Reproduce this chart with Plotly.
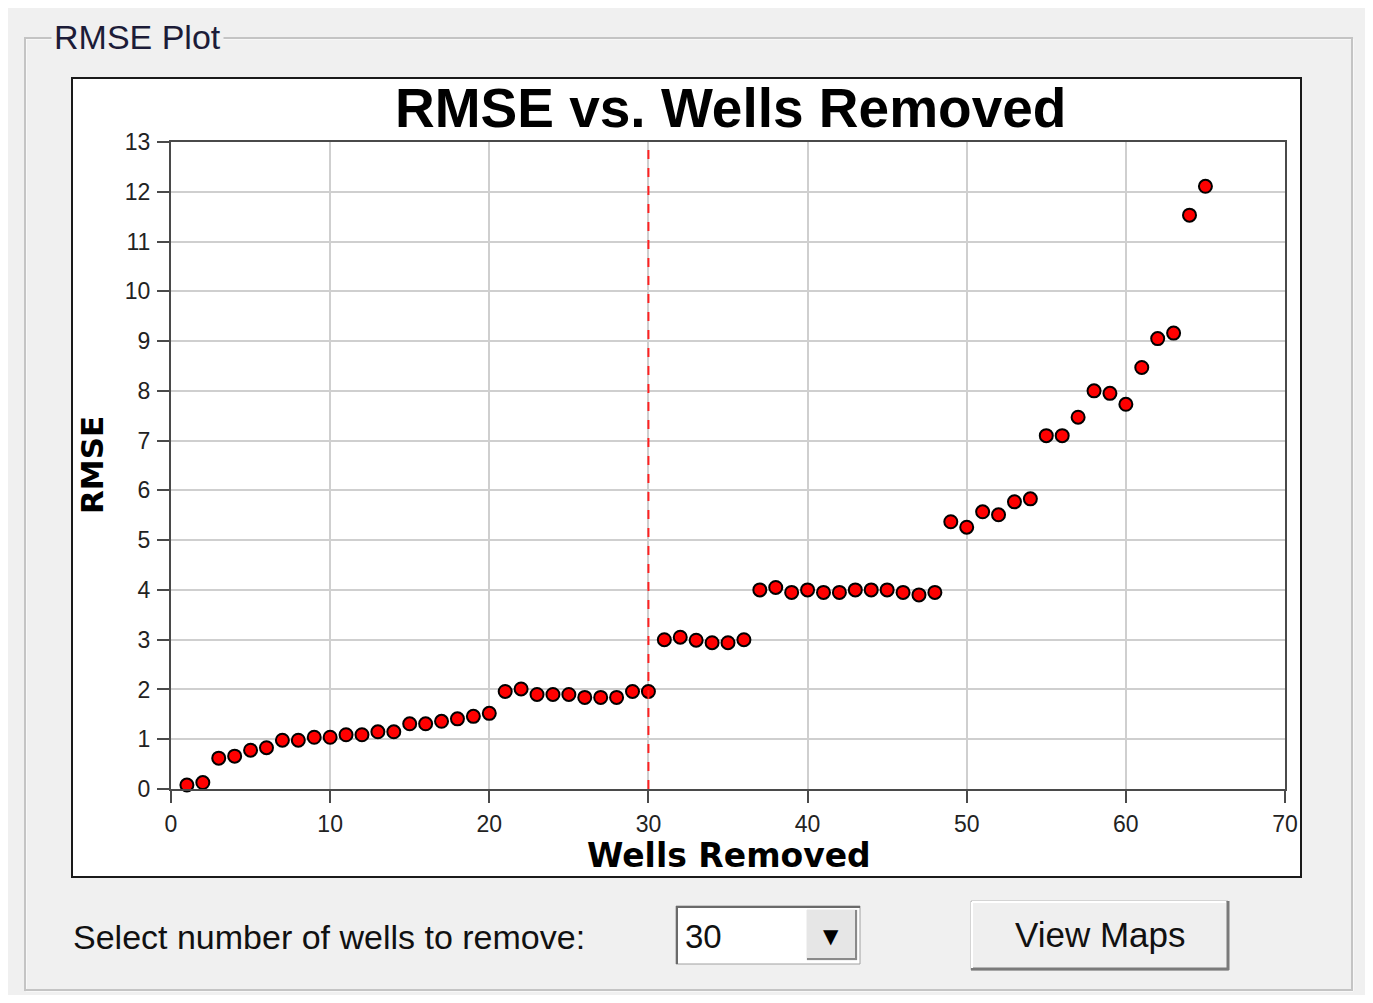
"""RMSE vs. Wells Removed panel, drawn with Plotly."""

import plotly.graph_objects as go

# the page body adds an 8px margin, so positions below are in screen pixels
# and get shifted by OFF when converted to paper coordinates
OFF = 8
W, H = 1373 - 2 * OFF, 1003 - 2 * OFF
PLOT_L, PLOT_R, PLOT_T, PLOT_B = 171, 1285, 142, 789

# data
wells_removed = list(range(1, 66))
rmse = [
    0.08, 0.13, 0.62, 0.66, 0.78, 0.83, 0.98, 0.98, 1.04, 1.04,
    1.09, 1.09, 1.15, 1.15, 1.31, 1.31, 1.36, 1.41, 1.46, 1.52,
    1.96, 2.01, 1.90, 1.90, 1.90, 1.84, 1.84, 1.84, 1.96, 1.96,
    3.00, 3.05, 2.99, 2.94, 2.94, 3.00, 4.00, 4.05, 3.95, 4.00,
    3.95, 3.95, 4.00, 4.00, 4.00, 3.95, 3.90, 3.95, 5.37, 5.26,
    5.57, 5.51, 5.77, 5.83, 7.10, 7.10, 7.47, 8.00, 7.95, 7.73,
    8.47, 9.05, 9.16, 11.53, 12.11,
]
selected_wells = 30
x_ticks = list(range(0, 71, 10))
y_ticks = list(range(0, 14))


def px(x):
    # screen pixel -> paper x
    return (x - PLOT_L) / (PLOT_R - PLOT_L)


def py(y):
    # screen pixel -> paper y
    return (PLOT_B - y) / (PLOT_B - PLOT_T)


def box(x0, y0, x1, y1, fill=None, line="#000", width=1, layer="below"):
    return dict(type="rect", xref="paper", yref="paper",
                x0=px(x0), x1=px(x1), y0=py(y0), y1=py(y1),
                fillcolor=fill or "rgba(0,0,0,0)",
                line=dict(color=line, width=width), layer=layer)


def seg(x0, y0, x1, y1, color, width=1):
    return dict(type="line", xref="paper", yref="paper",
                x0=px(x0), x1=px(x1), y0=py(y0), y1=py(y1),
                line=dict(color=color, width=width), layer="below")


fig = go.Figure()

fig.add_trace(go.Scatter(
    x=wells_removed, y=rmse, mode="markers",
    marker=dict(size=13, color="#ff0000", line=dict(color="#000", width=2)),
    showlegend=False, cliponaxis=False,
))

shapes = [
    # group box
    box(26, 39, 1353, 991, line="#ffffff", width=1),
    box(25, 38, 1352, 990, line="#c4c4c4", width=2),
    # white chart box
    box(72, 78, 1301, 877, fill="#ffffff", line="#1a1a1a", width=2),
    # combo box
    box(676, 906, 860, 964, fill="#ffffff", line="#a0a0a0", width=1),
    seg(676, 907, 860, 907, "#6a6a6a", 2),
    seg(677, 906, 677, 964, "#6a6a6a", 2),
    box(807, 910, 857, 960, fill="#e6e6e6", line="#e6e6e6", width=1),
    seg(807, 959, 857, 959, "#8a8a8a", 2),
    seg(856, 910, 856, 960, "#8a8a8a", 2),
    # button
    box(971, 901, 1228, 970, fill="#efefef", line="#b8b8b8", width=1),
    seg(971, 969, 1229, 969, "#7a7a7a", 3),
    seg(1228, 901, 1228, 970, "#7a7a7a", 3),
    seg(972, 902, 1226, 902, "#ffffff", 2),
    seg(972, 902, 972, 968, "#ffffff", 2),
]

# selected number of wells marker line
shapes.append(dict(
    type="line", xref="x", yref="y",
    x0=selected_wells, x1=selected_wells, y0=0, y1=13,
    line=dict(color="#ff2020", width=2, dash="dash"), layer="above",
))

annotations = [
    dict(text="<b>RMSE vs. Wells Removed</b>", x=px(730), y=py(108),
         font=dict(family="Liberation Sans, Arial", size=55, color="#000")),
    dict(text="<b>Wells Removed</b>", x=px(729), y=py(855),
         font=dict(family="DejaVu Sans", size=33, color="#000")),
    dict(text="<b>RMSE</b>", x=px(92), y=py(465), textangle=-90,
         font=dict(family="DejaVu Sans", size=31, color="#000")),
    dict(text="RMSE Plot", x=px(51), y=py(37), xanchor="left",
         bgcolor="#f0f0f0", borderpad=2,
         font=dict(family="Liberation Sans, Arial", size=34, color="#1c1c38")),
    dict(text="Select number of wells to remove:", x=px(71), y=py(937),
         xanchor="left",
         font=dict(family="Liberation Sans, Arial", size=34, color="#111")),
    dict(text=str(selected_wells), x=px(683), y=py(936), xanchor="left",
         font=dict(family="Liberation Sans, Arial", size=33, color="#111")),
    dict(text="▼", x=px(831), y=py(936),
         font=dict(family="DejaVu Sans", size=20, color="#000")),
    dict(text="View Maps", x=px(1100), y=py(935),
         font=dict(family="Liberation Sans, Arial", size=35, color="#111")),
]
for a in annotations:
    a.update(xref="paper", yref="paper", showarrow=False)
    a.setdefault("xanchor", "center")
    a.setdefault("yanchor", "middle")

axis_common = dict(
    showline=True, linecolor="#4a4a4a", linewidth=2, mirror=True,
    ticks="outside", ticklen=12, tickwidth=2, tickcolor="#4a4a4a",
    showgrid=True, gridcolor="#cfcfcf", gridwidth=2,
    zeroline=False, automargin=False,
    tickfont=dict(family="Liberation Sans, Arial", size=23, color="#222"),
)

fig.update_layout(
    width=W, height=H,
    margin=dict(l=PLOT_L - OFF, r=W - (PLOT_R - OFF),
                t=PLOT_T - OFF, b=H - (PLOT_B - OFF), pad=0),
    paper_bgcolor="#f0f0f0",
    plot_bgcolor="#ffffff",
    shapes=shapes,
    annotations=annotations,
    xaxis=dict(range=[0, 70], tickvals=x_ticks, ticklabelstandoff=1,
               **axis_common),
    yaxis=dict(range=[0, 13], tickvals=y_ticks, ticklabelstandoff=2,
               **axis_common),
)

fig.write_html("out.html")
